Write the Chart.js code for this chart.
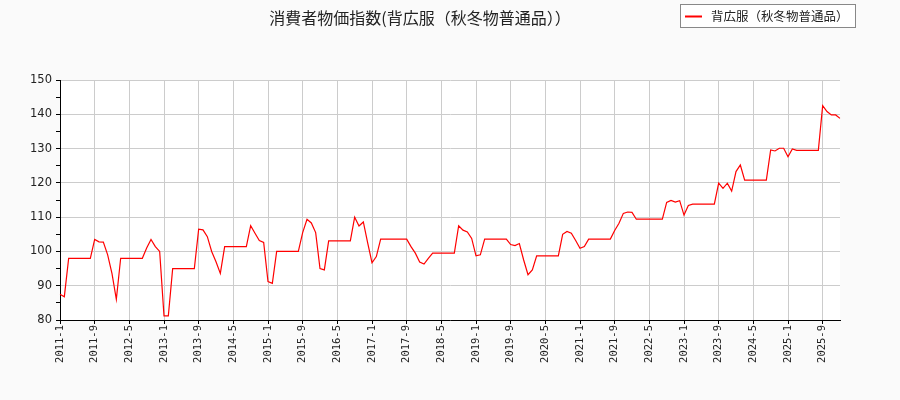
<!DOCTYPE html>
<html>
<head>
<meta charset="utf-8">
<script src="https://cdn.jsdelivr.net/npm/chart.js@4"></script>
<style>
  html, body { margin: 0; padding: 0; background: #fafafa; }
  #wrap { width: 900px; height: 400px; }
</style>
</head>
<body>
<div id="wrap"><canvas id="chart"></canvas></div>
<script>
// 系列名とタイトル
const chartTitle = '消費者物価指数(背広服（秋冬物普通品））';
const seriesName = '背広服（秋冬物普通品）';

// 月ラベル 2011-1 .. 2026-1
const months = [];
for (let y = 2011; y <= 2026; y++) {
    for (let m = 1; m <= 12; m++) {
        if (y === 2026 && m > 1) break;
        months.push(y + '-' + m);
    }
}

// 目盛りに出すラベル
const tickLabels = ['2011-1', '2011-9', '2012-5', '2013-1', '2013-9', '2014-5', '2015-1', '2015-9',
    '2016-5', '2017-1', '2017-9', '2018-5', '2019-1', '2019-9', '2020-5', '2021-1', '2021-9',
    '2022-5', '2023-1', '2023-9', '2024-5', '2025-1', '2025-9'];

// 指数
const values = [
    87.5, 86.8, 98, 98, 98, 98, 98, 98, 103.5, 102.8, 102.7, 99,          // 2011
    93.5, 86, 98, 98, 98, 98, 98, 98, 101, 103.5, 101.4, 100,             // 2012
    81.2, 81.2, 95, 95, 95, 95, 95, 95, 106.5, 106.3, 104.3, 100,         // 2013
    97, 93.6, 101.4, 101.4, 101.4, 101.4, 101.4, 101.4, 107.5, 105.3, 103.2, 102.6, // 2014
    91.2, 90.7, 100, 100, 100, 100, 100, 100, 105.5, 109.4, 108.3, 105.5, // 2015
    95, 94.6, 103.1, 103.1, 103.1, 103.1, 103.1, 103.1, 110, 107.4, 108.6, 102.5, // 2016
    96.7, 98.5, 103.6, 103.6, 103.6, 103.6, 103.6, 103.6, 103.6, 101.4, 99.5, 96.9, // 2017
    96.3, 98, 99.5, 99.5, 99.5, 99.5, 99.5, 99.5, 107.5, 106.2, 105.7, 103.8, // 2018
    98.7, 99, 103.6, 103.6, 103.6, 103.6, 103.6, 103.6, 102, 101.7, 102.3, 97.5, // 2019
    93.2, 94.6, 98.7, 98.7, 98.7, 98.7, 98.7, 98.7, 105, 105.8, 105.3, 103.2, // 2020
    100.9, 101.4, 103.6, 103.6, 103.6, 103.6, 103.6, 103.6, 106.1, 108.2, 111.1, 111.5, // 2021
    111.4, 109.4, 109.4, 109.4, 109.4, 109.4, 109.4, 109.4, 114.3, 114.9, 114.4, 114.8, // 2022
    110.6, 113.4, 113.8, 113.8, 113.8, 113.8, 113.8, 113.8, 119.9, 118.4, 119.9, 117.6, // 2023
    123.3, 125.2, 120.8, 120.8, 120.8, 120.8, 120.8, 120.8, 129.6, 129.3, 130.1, 130.1, // 2024
    127.6, 129.9, 129.5, 129.5, 129.5, 129.5, 129.5, 129.5, 142.5, 140.8, 139.8, 139.8, // 2025
    138.8                                                                  // 2026
];

// 背景 (外側は薄いグレー、プロット領域は白)
const bgPlugin = {
    id: 'bg',
    beforeDraw(chart) {
        const { ctx, chartArea: a } = chart;
        ctx.save();
        ctx.fillStyle = '#fafafa';
        ctx.fillRect(0, 0, chart.width, chart.height);
        ctx.fillStyle = '#ffffff';
        ctx.fillRect(a.left, a.top, a.right - a.left, a.bottom - a.top);
        ctx.restore();
    }
};

// 右上の枠付き凡例
const boxLegend = {
    id: 'boxLegend',
    afterDraw(chart) {
        const ctx = chart.ctx;
        const ds = chart.data.datasets[0];
        ctx.save();
        ctx.fillStyle = '#ffffff';
        ctx.fillRect(680.5, 4.5, 175, 23);
        ctx.strokeStyle = '#888888';
        ctx.lineWidth = 1;
        ctx.strokeRect(680.5, 4.5, 175, 23);
        ctx.strokeStyle = ds.borderColor;
        ctx.lineWidth = 2;
        ctx.beginPath();
        ctx.moveTo(685, 16.5);
        ctx.lineTo(702, 16.5);
        ctx.stroke();
        ctx.fillStyle = '#222222';
        ctx.font = '12.5px "Noto Sans CJK JP"';
        ctx.textBaseline = 'middle';
        ctx.fillText(ds.label, 711, 16.5);
        ctx.restore();
    }
};

new Chart(document.getElementById('chart'), {
    type: 'line',
    data: {
        labels: months,
        datasets: [{
            label: seriesName,
            data: values,
            borderColor: '#ff0000',
            borderWidth: 1.2,
            pointRadius: 0,
            tension: 0,
            fill: false
        }]
    },
    options: {
        responsive: true,
        maintainAspectRatio: false,
        animation: false,
        layout: { padding: { top: 0, right: 60, bottom: 0, left: 0 } },
        plugins: {
            legend: { display: false },
            tooltip: { enabled: false },
            title: {
                display: true,
                text: chartTitle,
                color: '#222222',
                font: { family: '"Noto Sans CJK JP"', size: 16, weight: 'normal', lineHeight: 1.2 },
                padding: { top: 8, bottom: 52.8 }
            }
        },
        scales: {
            x: {
                type: 'category',
                offset: false,
                afterFit(scale) { scale.height = 80; },
                border: { display: true, color: '#000000', width: 1 },
                grid: {
                    color: '#cccccc',
                    tickColor: '#000000',
                    tickLength: 4
                },
                ticks: {
                    autoSkip: false,
                    maxRotation: 90,
                    minRotation: 90,
                    padding: 1,
                    color: '#222222',
                    font: { family: '"DejaVu Sans Mono"', size: 10.5 },
                    callback(val) {
                        const lab = months[val];
                        return tickLabels.includes(lab) ? lab : null;
                    }
                }
            },
            y: {
                min: 80,
                max: 150,
                afterFit(scale) { scale.width = 60; },
                border: { display: true, color: '#000000', width: 1 },
                grid: {
                    color: (c) => (c.tick && c.tick.value % 10 === 0) ? '#cccccc' : 'rgba(0,0,0,0)',
                    tickColor: '#000000',
                    tickLength: 4
                },
                ticks: {
                    stepSize: 5,
                    padding: 4,
                    color: '#222222',
                    font: { family: '"DejaVu Sans"', size: 11.5 },
                    callback(v) { return v % 10 === 0 ? v : ''; }
                }
            }
        }
    },
    plugins: [bgPlugin, boxLegend]
});
</script>
</body>
</html>
